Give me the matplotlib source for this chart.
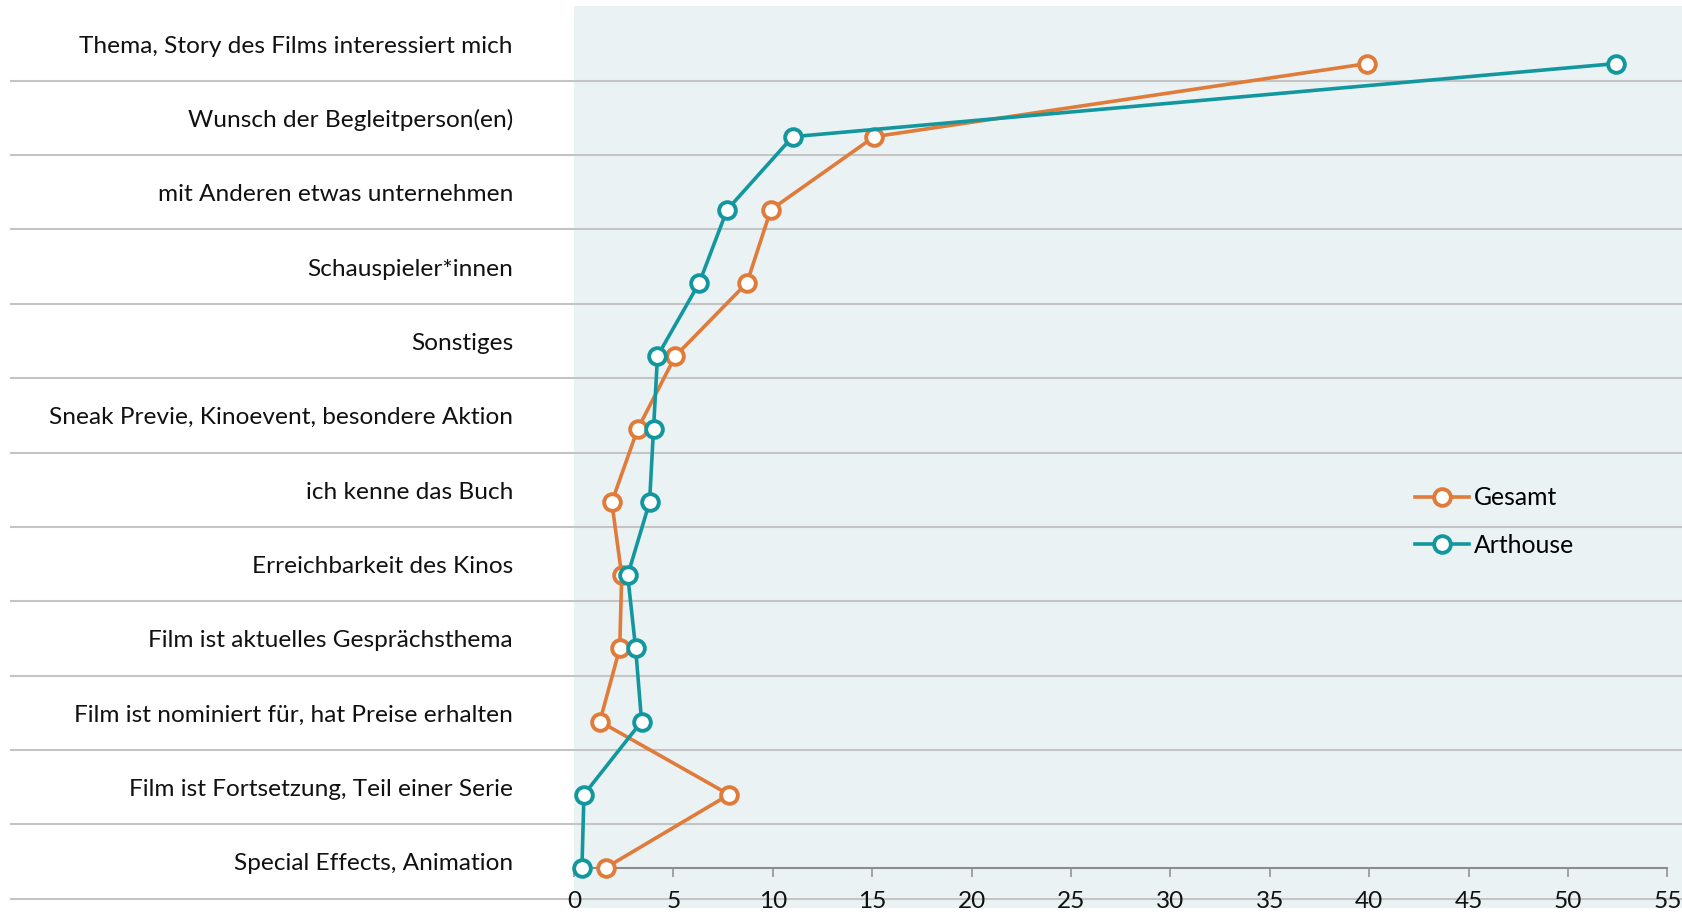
import matplotlib
matplotlib.use("Agg")
import matplotlib.pyplot as plt
from matplotlib.lines import Line2D
from matplotlib.patches import Rectangle

plt.rcParams['font.family'] = ['Lato', 'DejaVu Sans']

# Reasons for choosing a film (share of respondents, %)
categories = [
    "Thema, Story des Films interessiert mich",
    "Wunsch der Begleitperson(en)",
    "mit Anderen etwas unternehmen",
    "Schauspieler*innen",
    "Sonstiges",
    "Sneak Previe, Kinoevent, besondere Aktion",
    "ich kenne das Buch",
    "Erreichbarkeit des Kinos",
    "Film ist aktuelles Gesprächsthema",
    "Film ist nominiert für, hat Preise erhalten",
    "Film ist Fortsetzung, Teil einer Serie",
    "Special Effects, Animation",
]
gesamt = [39.9, 15.1, 9.9, 8.7, 5.1, 3.2, 1.9, 2.4, 2.3, 1.3, 7.8, 1.6]
arthouse = [52.4, 11.0, 7.7, 6.3, 4.2, 4.0, 3.8, 2.7, 3.1, 3.4, 0.5, 0.4]
series_names = ["Gesamt", "Arthouse"]
x_ticks = list(range(0, 56, 5))

ORANGE = "#E07B39"
TEAL = "#13979F"
BG = "#EAF2F4"
SEP = "#C4C4C4"
AXIS = "#8C8C8C"
TXT = "#111111"

W, H = 1683, 916
fig = plt.figure(figsize=(W / 100, H / 100), dpi=100)


def fx(px):
    return px / W


def fy(py):
    return 1 - py / H


# shaded plotting region
left_px, right_px, top_px, bottom_px = 574, 1683, 6, 907.7
fig.add_artist(Rectangle((fx(left_px), fy(bottom_px)), fx(right_px) - fx(left_px),
                         (bottom_px - top_px) / H, transform=fig.transFigure,
                         facecolor=BG, edgecolor="none", zorder=-3))

# row separators and category labels
row_h = 74.36
first_sep = 80.7
n = len(categories)
for k in range(n):
    y_sep = first_sep + k * row_h
    fig.add_artist(Line2D([fx(11), fx(1683)], [fy(y_sep), fy(y_sep)],
                          transform=fig.transFigure, color=SEP, lw=1.5, zorder=-2))
for i, lab in enumerate(categories):
    yc = first_sep - row_h / 2 + i * row_h + 2.5
    fig.text(fx(513), fy(yc), lab, ha="right", va="center", fontsize=17.6, color=TXT)

ax = fig.add_axes([fx(left_px), fy(bottom_px), fx(right_px) - fx(left_px), (bottom_px - top_px) / H])
ax.patch.set_visible(False)

ypos = [n - 1 - i for i in range(n)]
style = dict(lw=2.6, marker="o", ms=12, mew=2.8, mfc="white", clip_on=False)
ax.plot(gesamt, ypos, color=ORANGE, mec=ORANGE, label=series_names[0], zorder=3, **style)
ax.plot(arthouse, ypos, color=TEAL, mec=TEAL, label=series_names[1], zorder=4, **style)

px_per_unit = 19.88
ax.set_xlim(0, (right_px - left_px) / px_per_unit)
ax.set_ylim(-(bottom_px - 867.7) / 73.1, (n - 1) + (63.6 - top_px) / 73.1)

for s in ["left", "right", "top"]:
    ax.spines[s].set_visible(False)
ax.spines["bottom"].set_position(("data", 0))
ax.spines["bottom"].set_bounds(0, 55)
ax.spines["bottom"].set_color(AXIS)
ax.spines["bottom"].set_linewidth(1.5)
ax.set_yticks([])
ax.set_xticks(x_ticks)
ax.tick_params(axis="x", direction="out", length=6.5, width=1.1, color=AXIS,
               pad=10, labelsize=17.6, labelcolor=TXT)

ax.legend(loc="center left", bbox_to_anchor=(fx(1414.7), fy(521.6)),
          bbox_transform=fig.transFigure, frameon=False, handlelength=2.2,
          handletextpad=0.19, labelspacing=1.0, borderpad=0, borderaxespad=0,
          fontsize=17.8)

fig.savefig("out.png", dpi=100)
